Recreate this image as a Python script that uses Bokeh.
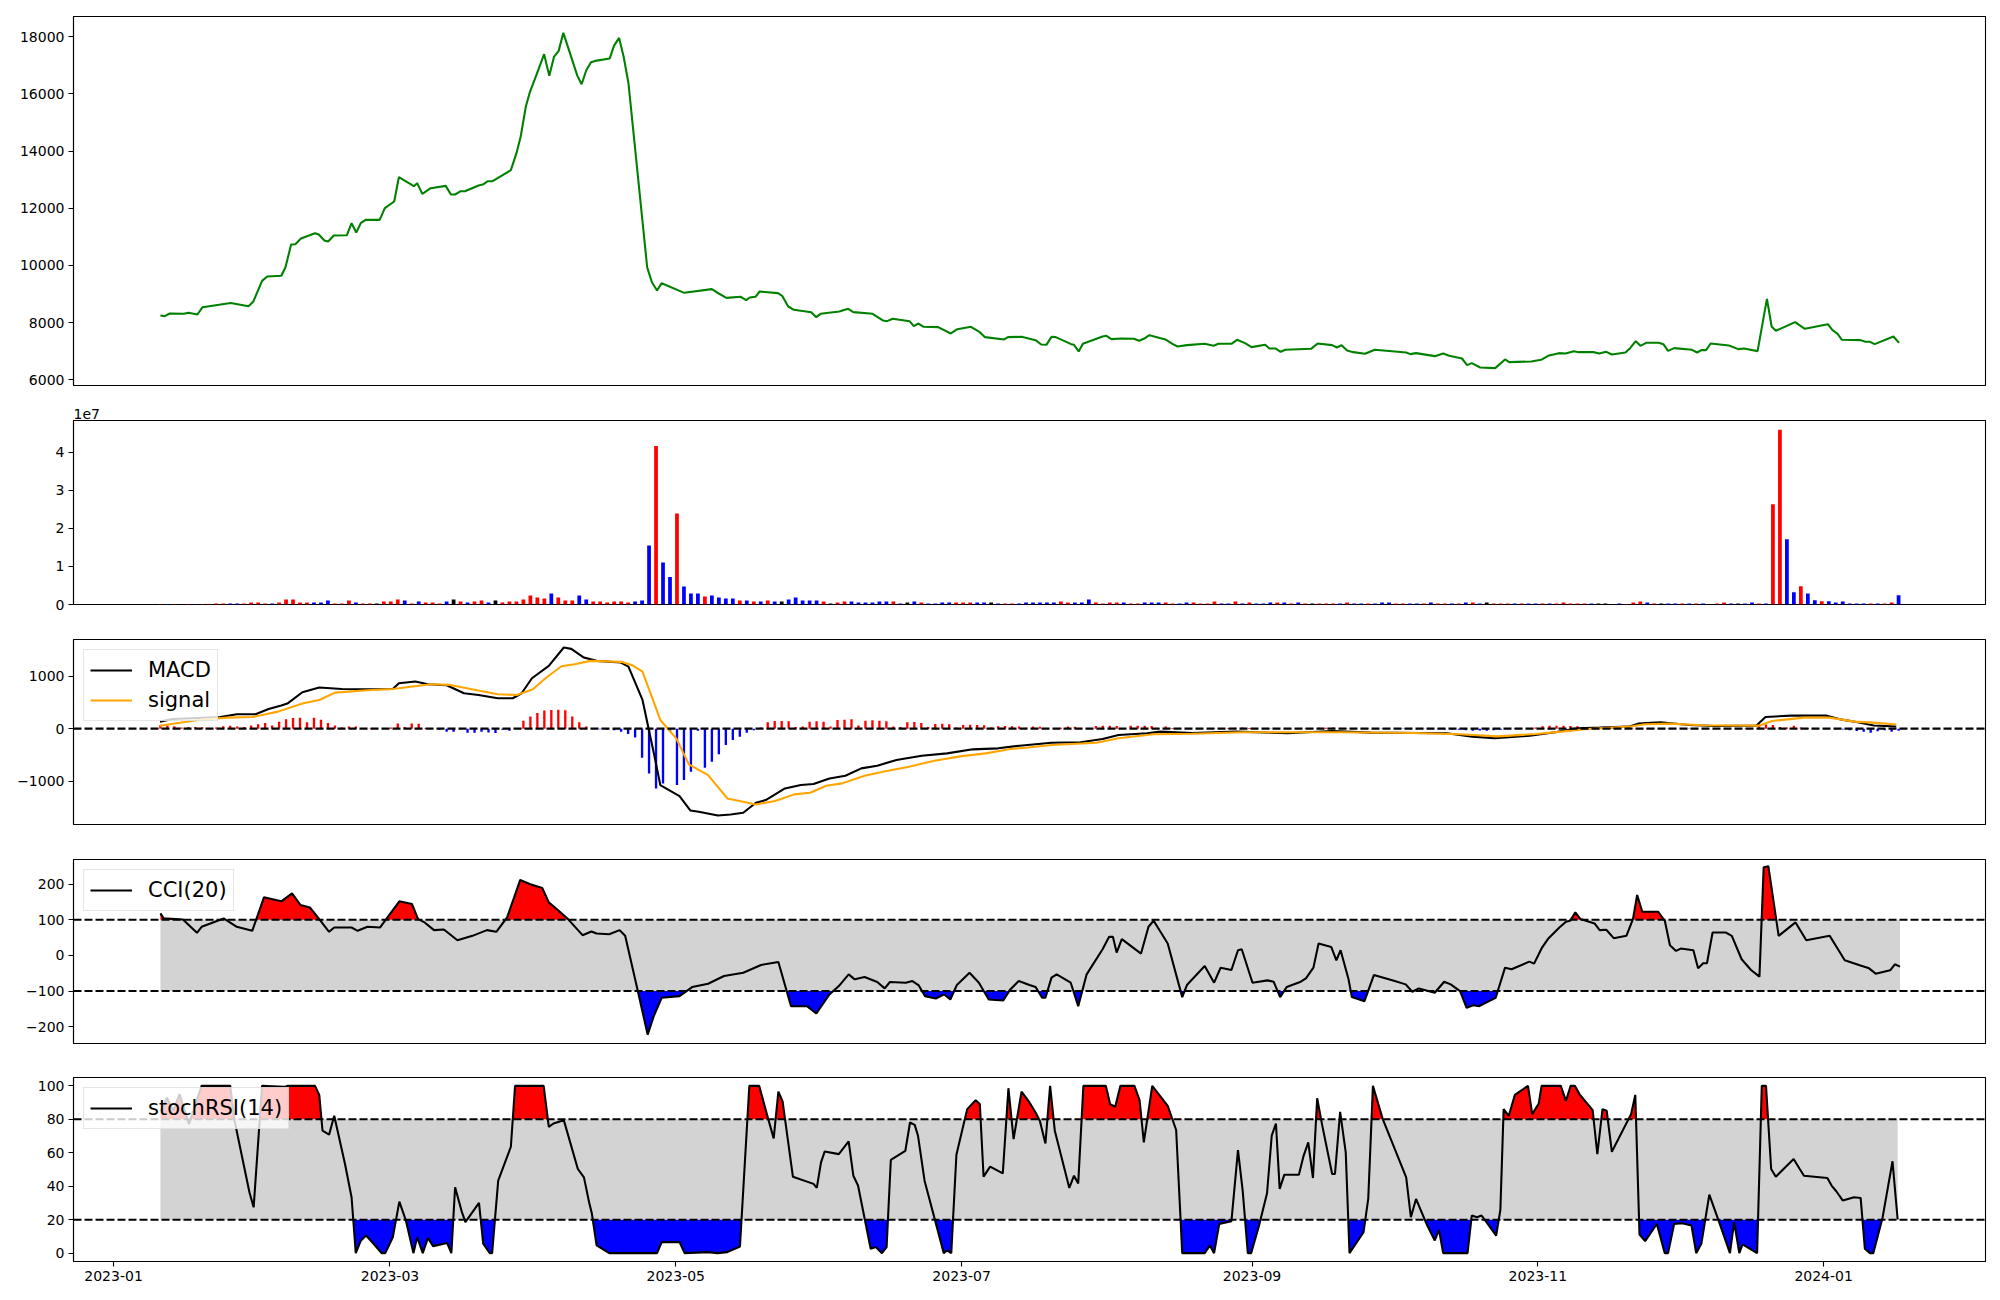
import numpy as np
import pandas as pd
from bokeh.plotting import figure
from bokeh.layouts import column
from bokeh.models import (Range1d, FixedTicker, Span, Legend, LegendItem, Title,
                          DatetimeTickFormatter)
from bokeh.embed import file_html
from bokeh.resources import INLINE

# ---------------- data (line series: day offsets from 2023-01-01) ----------------
BASE = "2023-01-01"
FIRST_DAY = "2023-01-11"     # first trading session shown
LAST_DAY = "2024-01-17"      # last trading session shown

price_day = [10, 10.9, 12, 15, 16, 17.9, 19, 25, 28.8, 29.8, 31.7, 32.8, 35.8, 36.7, 37.9, 38.8, 40, 43,
             43.8, 45, 45.8, 47, 49.8, 50.8, 51.8, 52.8, 53.8, 56.8, 57.9, 59.9, 60.9, 64.1, 64.8, 65.9,
             67.7, 70.9, 72, 72.9, 74.1, 75, 77.9, 78.8, 79.9, 80.9, 84.8, 86, 86.9, 88, 88.9, 90, 91.9,
             93, 94, 95, 96, 99, 99.9, 100.9, 101.9, 102.8, 105.9, 106.8, 107.9, 108.9, 109.9, 113.9,
             114.9, 116, 117, 121.8, 127.7, 128.8, 130.8, 133.9, 135, 135.8, 137, 137.9, 141.8, 142.7,
             144, 145.2, 148.9, 150, 150.9, 154.9, 156.8, 157.9, 162, 164.2, 165.1, 166.3, 169.9, 170.8,
             171.8, 172.9, 176, 178.7, 180.1, 183, 184.9, 186, 190.1, 190.9, 193.8, 196.8, 198, 199.1,
             200.2, 201.1, 204.4, 205, 206, 206.9, 211.1, 211.9, 213, 215.1, 217.8, 218.9, 219.9, 221.1,
             224.5, 226.1, 227.1, 229.1, 232.9, 234.8, 235.8, 238.6, 239.8, 241.5, 242.9, 245.8, 246.7,
             248, 249.1, 250.1, 255.6, 257, 260.1, 261.1, 262.1, 263.3, 264.6, 267.1, 269.2, 275.9,
             276.8, 278, 282, 283.8, 285.1, 287.8, 288.9, 289.9, 291.7, 294.9, 297, 297.9, 302.6, 304.7,
             306.2, 308.5, 309.9, 311.7, 312.7, 316, 317.1, 318.6, 319.8, 322.7, 323.7, 324.9, 325.9,
             327.1, 329.8, 330.8, 331.8, 333.1, 336.9, 338, 338.9, 339.9, 340.9, 344.8, 346.8, 348,
             350.9, 352.9, 353.9, 354.8, 358.9, 361, 365.9, 366.9, 367.9, 368.9, 372.9, 373.9, 374.9,
             375.9, 379.9, 381.1]
price = [8250, 8227, 8320, 8310, 8344, 8285, 8540, 8690, 8577, 8730, 9463, 9615, 9640, 9940, 10734,
         10745, 10944, 11130, 11084, 10874, 10839, 11049, 11060, 11480, 11154, 11492, 11597, 11597,
         12005, 12238, 13089, 12775, 12880, 12506, 12705, 12786, 12483, 12483, 12600, 12600, 12798,
         12833, 12949, 12949, 13334, 13929, 14512, 15561, 16086, 16552, 17392, 16634, 17298, 17508,
         18138, 16634, 16342, 16832, 17112, 17158, 17240, 17683, 17963, 17287, 16377, 9929, 9416, 9125,
         9381, 9043, 9172, 9055, 8868, 8903, 8787, 8880, 8903, 9090, 9032, 8938, 8565, 8449, 8367, 8192,
         8309, 8390, 8484, 8367, 8309, 8076, 8052, 8134, 8052, 7877, 7970, 7854, 7842, 7621, 7772, 7854,
         7667, 7493, 7411, 7493, 7504, 7388, 7236, 7224, 7504, 7493, 7248, 7224, 6991, 7259, 7516, 7539,
         7423, 7446, 7434, 7364, 7434, 7562, 7411, 7248, 7166, 7213, 7259, 7189, 7259, 7259, 7399, 7283,
         7143, 7224, 7096, 7096, 6979, 7049, 7084, 7271, 7213, 7131, 7213, 7026, 6968, 6909, 7049, 6956,
         6898, 6933, 6828, 6921, 6840, 6746, 6513, 6583, 6431, 6408, 6711, 6618, 6641, 6700, 6840, 6933,
         6921, 7003, 6968, 6968, 6921, 6979, 6886, 6956, 7108, 7353, 7189, 7294, 7294, 7248, 7014, 7108,
         7049, 6956, 7038, 7038, 7271, 7201, 7073, 7096, 7003, 8833, 7866, 7714, 8017, 7784, 7947, 7737,
         7621, 7399, 7388, 7329, 7329, 7248, 7516, 7294]

# per-session volume (millions of shares) and session direction (1 up, -1 down, 0 flat)
volume_m = [0.1, 0.1, 0.1, 0.1, 0.1, 0.1, 0.1, 0.1,
            .26, .26, .26, .26, .26, .52, .52, .26, .26, .52, 1.31, 1.31, .52, .52, .52, .52, 1.05, .26,
            .26, 1.05, .52, .26, .26, .26, .79, .79, 1.31, 1.05, .26, .79, .52, .52, .26, .79, 1.31, .79,
            .52, .79, 1.05, .52, 1.05, .52, .79, .79, 1.31, 2.36, 1.84, 1.57, 2.89, 1.84, 1.05, 1.05, 2.36,
            1.31, .79, .79, .52, .79, .79, .52, .79, 1.05,
            15.5, 41.6, 11.0, 7.2, 23.9, 4.7, 2.89, 2.89, 2.1, 2.36,
            1.84, 1.57, 1.57, 1.05, 1.05, .79, .79, 1.05, .79, .79,
            1.31, 1.84, 1.05, 1.05, 1.05, .79, .26, .52, .79, .79,
            .52, .52, .52, .79, .79, .79, .26, .52, .79, .52,
            .26, .26, .52, .52, .52, .52, .52, .52, .52, .52,
            .26, .26, .26, .26, .52, .52, .52, .52, .52,
            .79, .52, .52, .52, 1.31, .52, .26, .52, .52, .52,
            .26, .26, .52, .52, .52, .52, .26, .26, .52, .52,
            .26, .26, .79, .26, .26, .79, .26, .52, .26, .26,
            .52, .52, .52, .26, .52, .26, .26, .26, .26, .26,
            .26, .52, .26, .26, .26, .26, .52, .52, .26, .26, .26,
            .26, .26, .52, .26, .26, .26, .26, .52, .52, .26,
            .52, .26, .26, .26, .26, .26, .26, .26, .26, .26,
            .26, .52, .26, .26, .26, .26, .26, .26, .08, .26,
            .1, .52, .79, .52, .26, .26, .26, .26, .26, .26,
            .26, .26, .08, .26, .52, .26, .26, .26, .52, .26,
            .26,
            26.3, 45.9, 17.1, 3.2, 4.8, 2.89, 1.14, .87, .87, .52,
            .79, .26, .26, .26, .26, .26, .26, .52, 2.45]
volume_dir = [1, -1, 1, 0, 1, -1, 1, 1,
              1, 1, -1, -1, 1, 1, 1, 1, -1, 1, 1, 1, 1, 1, -1, -1, -1, 1, 1, 1, -1, 1, 1, 0, 1, 1, 1, -1,
              1, -1, 1, 1, 1, -1, 0, 1, -1, 1, 1, -1, 0, 1, 1, 1, 1, 1, 1, 1, -1, 1, 1, 1, -1, -1, 1, 1,
              1, 1, 1, 1, -1, -1,
              -1, 1, -1, -1, 1, -1, -1, -1, 1, -1,
              -1, -1, -1, 1, -1, 1, -1, 1, -1, 0,
              -1, -1, -1, -1, -1, 1, 0, 1, 1, -1,
              -1, -1, -1, -1, -1, 1, -1, 0, -1, 1,
              -1, -1, -1, -1, 1, 1, 1, -1, -1, 0,
              -1, 1, 1, -1, -1, -1, -1, -1, -1,
              1, 1, -1, -1, -1, 1, 1, 1, 1, -1,
              1, 1, -1, -1, -1, 1, 1, -1, -1, 1,
              1, 1, 1, -1, -1, 1, -1, 1, -1, -1,
              -1, 1, -1, 1, -1, 1, 0, 1, 1, 1,
              -1, 1, -1, -1, 1, -1, -1, -1, 1, 1, -1,
              -1, 1, -1, 1, 1, -1, 1, -1, 1, -1,
              0, 1, 1, 1, -1, 1, -1, -1, 1, -1,
              1, 1, 1, 1, 1, -1, 0, 0, 0, -1,
              1, 1, 1, -1, 1, 0, -1, -1, 1, -1,
              1, -1, 0, 1, 1, -1, 0, -1, -1, 1,
              -1,
              1, 1, -1, -1, 1, -1, -1, 1, -1, -1,
              -1, -1, -1, -1, 1, -1, 1, 1, -1]

# MACD histogram, one per session
macd_hist = [64, 60, 45, 20, 30, 30, 25, 10, 20, 45, 55, 40, 30, 60, 85, 110, 60, 130, 180, 205,
             210, 120, 210, 170, 110, 60, 20, 40, 40, 10, 5, 3, 5, 20, 100, 30, 100, 95, 10, -5,
             -20, -60, -60, -10, -80, -80, -60, -75, -85, -20, -40, 10, 150, 230, 300, 345, 355, 363,
             350, 230,
             120, 40, 5, -10, -20, -30, -60, -100, -170, -554, -854, -1141, -1045, -60, -1077, -981,
             -822, -40, -746, -631,
             -491, -312, -217, -153, -76, -30, 20, 120, 147, 147, 140, 30, 40, 134, 140, 134, 40, 165,
             170, 178,
             60, 150, 160, 150, 140, 40, 30, 120, 125, 110, 30, 90, 95, 85, 20, 70, 75, 70, 65, 20,
             45, 50, 45, 40, 15, 40, 35, 10, 5, 15, 40, 35, 5, 10, 50, 57, 55, 50, 10, 55,
             57, 55, 50, 10, 40, 10, 5, 5, 0, -5, 0, 5, 5, 10, 15, 20, 10, 5, 0, -5,
             0, 5, 5, 0, 5, 10, 15, 15, 20, 10, 5, 0, -5, -5, -5, -5, 0, -5, -5, -10,
             -10, -5, -10, -10, -15, -15, -20, -30, -40, -35, -40, -30, -20, -10, -5, 5, 10, 20, 45, 55,
             57, 55, 50, 45, 30, 30, 25, 10, 5, 0, 5, 5, 10, 10, 5, 0, -5, -5, -5, -5,
             0, 5, 0, -5, 0, 0, 0, 5, 10, 83, 80, 70, 30, 20, 57, 20, 10, 5, 0, -5,
             -10, -15, -30, -45, -60, -76, -50, -30, -60, -40]

macd_day = [9.9, 12.6, 22.8, 26.3, 30.3, 33.1, 35.8, 37.1, 40.3, 43.9, 48.7, 54.1, 59.6, 60.9, 64.4, 67.1,
            71.1, 74.8, 77.9, 82, 85.2, 87.1, 89.3, 92.9, 96.1, 97.7, 100.4, 103.1, 108.3, 109.9, 112.9,
            115.4, 116.7, 120.8, 123.1, 124.9, 129, 131.7, 134.4, 137.1, 139.2, 143.3, 146.7, 149.4,
            152.8, 156.2, 159.6, 163, 167.1, 172.5, 177.9, 183.4, 188.8, 193.4, 200.2, 206.4, 211.1,
            214.5, 220.6, 223.4, 230.2, 239.7, 250.6, 260.1, 268.3, 284.6, 290, 294.8, 302.3, 307.7,
            312.5, 317.2, 323.4, 325.4, 330.2, 336.3, 341.7, 350.6, 352.6, 358.1, 365.5, 368.9, 372.3,
            375.7, 380.5]
macd = [134, 185, 223, 274, 274, 376, 440, 478, 695, 784, 758, 752, 758, 867, 899, 848, 828, 676, 644,
        580, 580, 676, 962, 1198, 1549, 1523, 1357, 1294, 1262, 1185, 548, -503, -1077, -1287, -1561,
        -1587, -1657, -1638, -1606, -1415, -1364, -1141, -1077, -1058, -950, -899, -758, -707, -599,
        -516, -472, -395, -376, -325, -268, -261, -198, -121, -89, -57, -83, -57, -89, -45, -76, -89,
        -153, -185, -134, -70, 6, 19, 38, 96, 121, 70, 51, 57, 223, 249, 249, 172, 121, 60, 40]

signal_day = [9.9, 18.1, 24.2, 29.7, 35.1, 40.5, 43.9, 47.3, 54.1, 59.6, 67.7, 71.8, 77.3, 82, 86.1, 89.5,
              92.2, 95.6, 98.4, 101.8, 108.3, 110.6, 112.9, 116.7, 120.1, 122.8, 126.9, 131, 134.4,
              137.1, 141.2, 145.3, 148.7, 152.1, 155.5, 160.3, 165, 169.8, 175.2, 180.7, 186.1, 191.5,
              194.8, 200.2, 209.8, 214.5, 222, 230.2, 241, 250.6, 261.5, 277.8, 287.3, 295.5, 303.6,
              309.1, 314.5, 323.4, 326.8, 332.2, 339, 351.2, 354, 360.8, 366.2, 371.7, 376.4, 380.5]
signal = [57, 166, 210, 223, 325, 484, 548, 688, 733, 758, 848, 835, 739, 656, 644, 752, 962, 1192, 1230,
          1294, 1275, 1217, 1090, 166, -185, -682, -886, -1332, -1396, -1447, -1383, -1255, -1224, -1090,
          -1045, -899, -809, -727, -612, -529, -472, -389, -363, -312, -268, -185, -108, -96, -70, -70,
          -70, -83, -108, -147, -102, -57, -6, 38, 83, 96, 64, 57, 147, 210, 210, 134, 110, 80]

cci_day = [10, 10.7, 14.8, 17.8, 18.8, 23.5, 26.3, 29.6, 32.1, 35.8, 38.1, 39.9, 41.9, 43.9, 46, 47.1,
           50.8, 52.1, 54.2, 56.9, 58.9, 61, 63.7, 65, 66.4, 68.4, 70.5, 73.4, 76.6, 79.7, 81.7, 84,
           86.8, 88.8, 91.5, 92.9, 95, 97, 100.1, 102, 103.1, 105.8, 108, 109.2, 111.9, 114, 115.3, 117,
           120.8, 123.5, 126.9, 130.3, 134.4, 138.2, 141.9, 144.6, 148, 150, 152.8, 154.8, 156.9, 158.2,
           160.3, 163, 164.6, 165.7, 169.1, 170.5, 171.8, 173.2, 175.5, 177.3, 178.6, 180, 182.7, 184.7,
           186.8, 189.9, 191.4, 193.2, 195.5, 196.8, 198.2, 198.9, 200.2, 201.3, 204.3, 205.9, 207.7,
           211.1, 212.5, 213.3, 214.1, 215.2, 219.3, 220.9, 222, 225, 228.1, 229.1, 232.9, 234.9, 236.3,
           238.6, 240, 240.8, 243.1, 246.3, 247.6, 249, 250.4, 253.4, 254.5, 256.1, 257.2, 259.9, 261,
           261.9, 263.6, 264.3, 267, 269, 273.1, 275.8, 277.2, 278.6, 282, 284, 285.4, 287.4, 288.8,
           290.2, 291.5, 293.6, 295, 297, 298.4, 302.2, 303.2, 304.9, 306.3, 308.6, 310, 310.9, 312,
           313.1, 316.1, 317.2, 318.6, 320.2, 322.9, 324.3, 325.2, 326.3, 329.7, 331.1, 332.2, 333.5,
           334.5, 337.2, 338.2, 339.3, 340.1, 341.3, 344.1, 345.4, 347.5, 349.5, 351.3, 352.2, 353.2,
           355.4, 359, 361.3, 366.3, 368.2, 369.5, 372.7, 374.7, 376.1, 379.2, 380.2, 381.3]
cci = [117.8, 103.8, 100.9, 63.4, 80.3, 103.8, 80.3, 69, 162.9, 151.7, 174.2, 141.4, 134.7, 101.9, 66.2,
       78.4, 78.4, 69, 80.3, 78.4, 114.1, 151.7, 144.1, 101.9, 92.5, 70.9, 72.8, 42.7, 54.9, 70.9, 66.2,
       106.6, 211.7, 200.5, 189.2, 148.8, 125.4, 101.9, 56.8, 67.1, 61.5, 59.6, 70.9, 54.9, -100, -222.1,
       -170.4, -118.8, -114.1, -88.7, -79.3, -57.7, -48.4, -26.8, -18.3, -142.3, -142.3, -162.9, -109.4,
       -85.9, -53.1, -67.1, -60.6, -74.6, -92.5, -74.6, -76.5, -71.8, -83.1, -114.1, -120.7, -109.4,
       -123.5, -83.1, -48.4, -76.5, -123.5, -126.3, -95.3, -71.8, -83.1, -88.7, -118.8, -118.8, -62.4,
       -53.1, -76.5, -142.3, -53.1, 17.4, 52.1, 52.1, 8, 45.5, 5.2, 80.3, 97.2, 33.3, -116.9, -83.1,
       -29.6, -76.5, -34.3, -40.8, 14.6, 17.4, -76.5, -70, -73.7, -116.9, -88.7, -73.7, -64.3, -34.3,
       33.3, 23.9, -13.6, 14.6, -67.1, -116.9, -128.2, -55, -70, -81.2, -101.9, -92.5, -104.7, -73.7,
       -81.2, -100, -147, -139.5, -142.3, -128.2, -118.8, -34.3, -39, -17.4, -23, 22.1, 48.4, 78.4,
       94.4, 97.2, 120.7, 101.9, 89.7, 70.9, 71.8, 48.4, 54.9, 101.9, 169.5, 122.5, 122.5, 97.2, 28.6,
       12.7, 19.2, 14.6, -36.2, -22.1, -22.1, 64.3, 64.3, 54.9, -10.8, -40.8, -59.6, 247.4, 250.2, 54.9,
       92.5, 42.7, 54.9, 14.6, -13.6, -27.7, -36.2, -51.2, -41.7, -24.9, -31.5]

stoch_day = [10, 11.4, 12.7, 14.1, 16.1, 17.5, 18.8, 24.9, 25.8, 29, 29.9, 31.7, 35.1, 36.5, 37.1, 43,
             43.9, 44.6, 46, 47.1, 49.4, 50.8, 51.7, 52.8, 53.9, 55.5, 57.2, 58, 59.6, 61, 62.4, 64, 64.8,
             66, 67.1, 68.2, 71.2, 72.1, 72.9, 74.3, 75.1, 78, 78.9, 80.3, 80.8, 82.1, 84.8, 85.7, 91.8,
             92.9, 93.9, 96.1, 99.1, 100.4, 101.5, 102.1, 103.1, 105.8, 116, 117, 120.8, 121.9, 126.9,
             128.9, 131, 133.7, 135.7, 137.8, 139.8, 140.9, 141.9, 142.8, 145, 149.4, 150.1, 151, 151.8,
             154.8, 156.9, 157.9, 158.9, 161.6, 162.7, 164, 165, 165.9, 169, 170, 171, 171.7, 173.1,
             177.2, 177.9, 178.8, 179.9, 182.2, 184, 184.9, 185.7, 187.1, 189.8, 191, 192.1, 193.8,
             195.5, 196.8, 197.7, 198.9, 199.9, 200.9, 204, 205, 205.9, 207, 211.8, 212.7, 213.8, 214.9,
             217.9, 219, 219.9, 221.7, 225, 226.8, 228.1, 232.9, 234, 234.9, 236, 238.6, 240, 241, 242.1,
             242.8, 244.4, 246.2, 247.2, 248.1, 248.9, 249.9, 253, 254, 255, 256, 256.9, 258, 260.1,
             260.7, 261.8, 263, 263.8, 266.8, 267.8, 268.8, 270.9, 275.9, 276.9, 278, 280.4, 282, 282.9,
             283.8, 289, 289.9, 291, 292, 295.1, 296, 296.7, 297.8, 299.1, 301.9, 302.8, 304.2, 304.8,
             308.9, 310, 311, 311.9, 313, 315.7, 316.7, 317.8, 318.7, 319.8, 323.9, 324.8, 325.7, 326.9,
             329.4, 331.1, 331.8, 333.1, 334.8, 336.8, 337.8, 338.9, 340.6, 342.7, 345, 345.9, 347,
             347.7, 350.8, 351.8, 352.7, 353.8, 354.8, 358.6, 359.9, 360.8, 365.8, 366.7, 367.7, 369.1,
             371.5, 372.9, 373.8, 374.9, 375.6, 377.6, 379.7, 380.8]
stoch = [84.7, 93, 85.1, 95, 77.1, 89.1, 100, 100, 79.5, 36.4, 27.4, 100, 99.6, 99.4, 100, 100, 94.6,
         73.2, 70.8, 82.1, 53.3, 33.4, 0, 7.6, 10.5, 5.6, 0, 0, 9.5, 30.8, 19.5, 0, 9.5, 0, 9.1, 4.2, 6, 0,
         39.4, 25, 18.5, 30, 5.6, 0, 0, 43.3, 63.6, 100, 100, 75.5, 77.5, 79.5, 50.3, 45.3, 30.4, 23.5,
         4.6, 0, 0, 6.6, 6.6, 0, 0.6, 0, 0.6, 4, 100, 100, 79.5, 68.6, 96.6, 90.7, 45.7, 41.4, 39, 54.3,
         60.8, 59.2, 66.8, 46.3, 40.4, 2.6, 3.6, 0, 3.6, 55.7, 61.2, 78.1, 76.7, 70.2, 43.3, 0, 1.6, 0,
         58.8, 86.1, 91.4, 89.1, 45.7, 51.7, 47.7, 98.6, 68.2, 96.6, 90.1, 84.1, 79.1, 65.6, 100, 73.2,
         39, 46.3, 41.7, 100, 100, 89.1, 87.5, 100, 100, 91.4, 66.2, 100, 88.1, 73.6, 0, 0, 4.6, 0, 17.5,
         19.1, 61.6, 37.4, 0, 0, 15.5, 35.8, 70.2, 77.5, 38.4, 46.9, 46.9, 58.2, 66.2, 44.9, 92.6, 76.1,
         47.3, 47.3, 84.5, 60.2, 0, 12.5, 32.4, 100, 80.1, 45.3, 21.5, 32.4, 16.5, 7.6, 13.9, 0, 0, 22.5,
         21.5, 22.5, 10.5, 25.8, 86.1, 82.1, 94.6, 100, 83.1, 89.5, 100, 100, 91, 100, 100, 94.6, 85.5,
         59.2, 86.1, 85.1, 60.6, 83.1, 94.6, 11.1, 7.2, 17.5, 0, 0, 17.5, 17.9, 16.5, 0, 5.6, 35, 18.5, 0,
         18.5, 0, 5.2, 0, 100, 100, 50.3, 45.7, 56.3, 50.3, 46.3, 44.9, 40.4, 37, 31.4, 33.4, 33, 2.6, 0,
         0, 21.5, 54.9, 20.1]

price_ticks = [6000, 8000, 10000, 12000, 14000, 16000, 18000]
volume_ticks = [0, 1, 2, 3, 4]
macd_ticks = [-1000, 0, 1000]
cci_ticks = [-200, -100, 0, 100, 200]
stoch_ticks = [0, 20, 40, 60, 80, 100]
date_ticks = ["2023-01-01", "2023-03-01", "2023-05-01", "2023-07-01", "2023-09-01", "2023-11-01",
              "2024-01-01"]

# ---------------- helpers ----------------
T0 = pd.Timestamp(BASE)
DAY_MS = 86400000.0
LW = 2.08          # 1.5 pt at 100 dpi
DASH = "8 3"


def to_dt(days):
    return T0 + pd.to_timedelta(np.asarray(days, dtype=float), unit="D")


n = min(len(volume_m), len(volume_dir), len(macd_hist))
# sessions are plotted evenly spaced between the first and the last session date
sessions = pd.date_range(FIRST_DAY, LAST_DAY, periods=n)

xr = Range1d(start=(T0 + pd.Timedelta(days=-8.55)).to_pydatetime(),
             end=(T0 + pd.Timedelta(days=399.55)).to_pydatetime())

FONT = "DejaVu Sans"


def style_axis(ax, ticks):
    ax.ticker = FixedTicker(ticks=ticks)
    ax.major_label_text_font = FONT
    ax.major_label_text_font_size = "14px"
    ax.major_label_text_color = "black"
    ax.major_tick_out = 5
    ax.major_tick_in = 0
    ax.minor_tick_out = 0
    ax.minor_tick_in = 0
    ax.axis_line_color = "black"
    ax.axis_line_width = 1.1
    ax.major_tick_line_color = "black"
    ax.major_tick_line_width = 1.1
    ax.major_label_standoff = 4


def make_fig(fh, y0, y1, bt, bb, yticks, show_x=False):
    p = figure(frame_width=1912, frame_height=fh, x_axis_type="datetime", x_range=xr,
               y_range=Range1d(y0, y1), output_backend="svg", toolbar_location=None,
               min_border_left=73, min_border_right=8, min_border_top=bt, min_border_bottom=bb)
    p.grid.visible = False
    p.outline_line_color = "black"
    p.outline_line_alpha = 1.0
    p.outline_line_width = 1.1
    p.background_fill_color = "white"
    p.border_fill_color = "white"
    style_axis(p.yaxis[0], yticks)
    if show_x:
        ax = p.xaxis[0]
        ms = [(pd.Timestamp(d) - pd.Timestamp("1970-01-01")).total_seconds() * 1000.0 for d in date_ticks]
        style_axis(ax, ms)
        fmt = "%Y-%m"
        ax.formatter = DatetimeTickFormatter(years=fmt, months=fmt, days=fmt, hours=fmt,
                                             hourmin=fmt, minutes=fmt, minsec=fmt, seconds=fmt,
                                             milliseconds=fmt, microseconds=fmt)
    else:
        p.xaxis.visible = False
    return p


def style_legend(lg):
    lg.location = "top_left"
    lg.margin = 10
    lg.padding = 6
    lg.spacing = 2
    lg.glyph_width = 42
    lg.glyph_height = 28
    lg.label_height = 28
    lg.label_standoff = 16
    lg.label_text_font = FONT
    lg.label_text_font_size = "21px"
    lg.label_text_color = "black"
    lg.border_line_color = "#cccccc"
    lg.border_line_width = 1
    lg.background_fill_color = "white"
    lg.background_fill_alpha = 0.8


def dashed(p, y):
    p.add_layout(Span(location=y, dimension="width", line_color="black",
                      line_dash=DASH, line_width=LW))


def beyond(days, vals, thr, above):
    xs, ys = [], []
    for i in range(len(days)):
        if i > 0:
            a, b = vals[i - 1] - thr, vals[i] - thr
            if a * b < 0:
                t = a / (a - b)
                xs.append(days[i - 1] + t * (days[i] - days[i - 1]))
                ys.append(thr)
        xs.append(days[i])
        ys.append(vals[i])
    ys = np.asarray(ys, dtype=float)
    ys = np.maximum(ys, thr) if above else np.minimum(ys, thr)
    return to_dt(xs), ys


def oscillator(p, days, vals, lo, hi, name):
    band_x = to_dt([days[0], days[-1]])
    p.varea(x=band_x, y1=[lo, lo], y2=[hi, hi], color="#d3d3d3")
    rx, ry = beyond(days, vals, hi, True)
    p.varea(x=rx, y1=hi, y2=ry, color="red")
    bx, by = beyond(days, vals, lo, False)
    p.varea(x=bx, y1=lo, y2=by, color="blue")
    dashed(p, hi)
    dashed(p, lo)
    r = p.line(to_dt(days), vals, line_color="black", line_width=LW)
    lg = Legend(items=[LegendItem(label=name, renderers=[r])])
    style_legend(lg)
    p.add_layout(lg)


# ---------------- panels ----------------
p1 = make_fig(369, 5801, 18711, 16, 13, price_ticks)
p1.line(to_dt(price_day), price, line_color="green", line_width=LW)

p2 = make_fig(184, 0, 4.83, 22, 18, volume_ticks)
dir_color = {1: "red", -1: "blue", 0: "black"}
vol_colors = [dir_color[d] for d in volume_dir[:n]]
p2.vbar(x=sessions, top=np.asarray(volume_m[:n]) / 10.0, width=0.8 * DAY_MS,
        color=vol_colors, line_width=0)
p2.add_layout(Title(text="1e7", align="left", text_font=FONT, text_font_size="14px",
                    text_font_style="normal", text_color="black", standoff=4, offset=0), "above")

p3 = make_fig(185, -1830, 1702, 17, 18, macd_ticks)
hist = np.asarray(macd_hist[:n], dtype=float)
hist_colors = ["red" if v >= 0 else "blue" for v in hist]
p3.vbar(x=sessions, top=hist, bottom=0, width=0.5 * DAY_MS, color=hist_colors, line_width=0)
dashed(p3, 0)
r_macd = p3.line(to_dt(macd_day), macd, line_color="black", line_width=LW)
r_sig = p3.line(to_dt(signal_day), signal, line_color="orange", line_width=LW)
lg3 = Legend(items=[LegendItem(label="MACD", renderers=[r_macd]),
                    LegendItem(label="signal", renderers=[r_sig])])
style_legend(lg3)
p3.add_layout(lg3)

p4 = make_fig(184, -247, 269, 17, 17, cci_ticks)
oscillator(p4, cci_day, cci, -100, 100, "CCI(20)")

p5 = make_fig(184, -5, 105, 17, 30, stoch_ticks, show_x=True)
oscillator(p5, stoch_day, stoch, 20, 80, "stochRSI(14)")

layout = column(p1, p2, p3, p4, p5, spacing=0)
open("out.html", "w").write(file_html(layout, INLINE))
